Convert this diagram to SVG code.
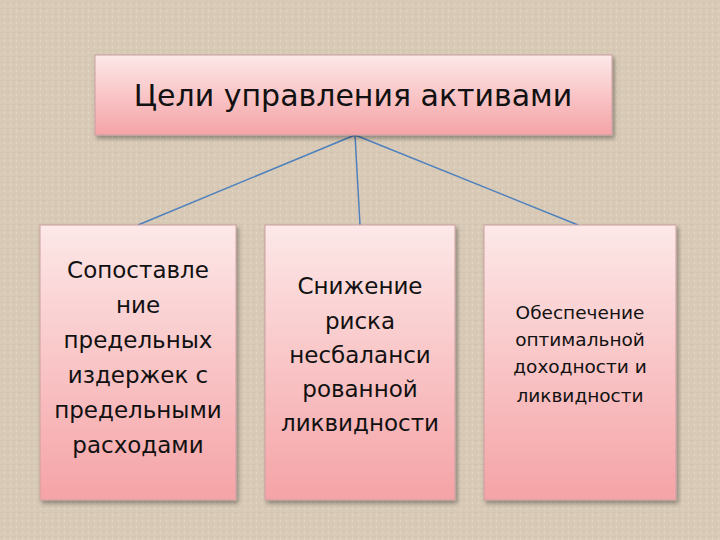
<svg xmlns="http://www.w3.org/2000/svg" width="720" height="540" viewBox="0 0 720 540">
<defs>
<linearGradient id="g" x1="0" y1="0" x2="0" y2="1"><stop offset="0" stop-color="#fde8e8"/><stop offset="1" stop-color="#f5a3a6"/></linearGradient>
<filter id="s" x="-10%" y="-10%" width="130%" height="130%"><feDropShadow dx="2" dy="3" stdDeviation="2" flood-color="#000" flood-opacity="0.35"/></filter>
<pattern id="bg" width="6" height="6" patternUnits="userSpaceOnUse"><rect width="6" height="6" fill="#d8cab7"/><rect x="1" y="2" width="2" height="1" fill="#cdbfa9"/><rect x="4" y="4" width="1" height="2" fill="#e2d6c5"/></pattern>
<style>.b{fill:url(#g);stroke:#c9a0a0;stroke-width:1;filter:url(#s)}.t{font-family:"DejaVu Sans",Arial,sans-serif;fill:#111;text-anchor:middle}.c{stroke:#4f81bd;stroke-width:1.5;fill:none}</style>
</defs>
<rect width="720" height="540" fill="url(#bg)"/>
<g id="connectors"><path class="c" d="M355 135L138 225M355 135L360 225M355 135L578 225"/></g>
<g id="top"><rect class="b" x="95" y="55" width="517" height="80"/><text class="t" x="353" y="106" font-size="30">Цели управления активами</text></g>
<g id="n1"><rect class="b" x="40" y="225" width="196" height="275"/><text class="t" font-size="23"><tspan x="138" y="278">Сопоставле</tspan><tspan x="138" y="313">ние</tspan><tspan x="138" y="348">предельных</tspan><tspan x="138" y="383">издержек с</tspan><tspan x="138" y="418">предельными</tspan><tspan x="138" y="453">расходами</tspan></text></g>
<g id="n2"><rect class="b" x="265" y="225" width="190" height="275"/><text class="t" font-size="23"><tspan x="360" y="294">Снижение</tspan><tspan x="360" y="329">риска</tspan><tspan x="360" y="363">несбаланси</tspan><tspan x="360" y="397">рованной</tspan><tspan x="360" y="431">ликвидности</tspan></text></g>
<g id="n3"><rect class="b" x="484" y="225" width="192" height="275"/><text class="t" font-size="18.5"><tspan x="580" y="319">Обеспечение</tspan><tspan x="580" y="346">оптимальной</tspan><tspan x="580" y="373">доходности и</tspan><tspan x="580" y="402">ликвидности</tspan></text></g>
</svg>
